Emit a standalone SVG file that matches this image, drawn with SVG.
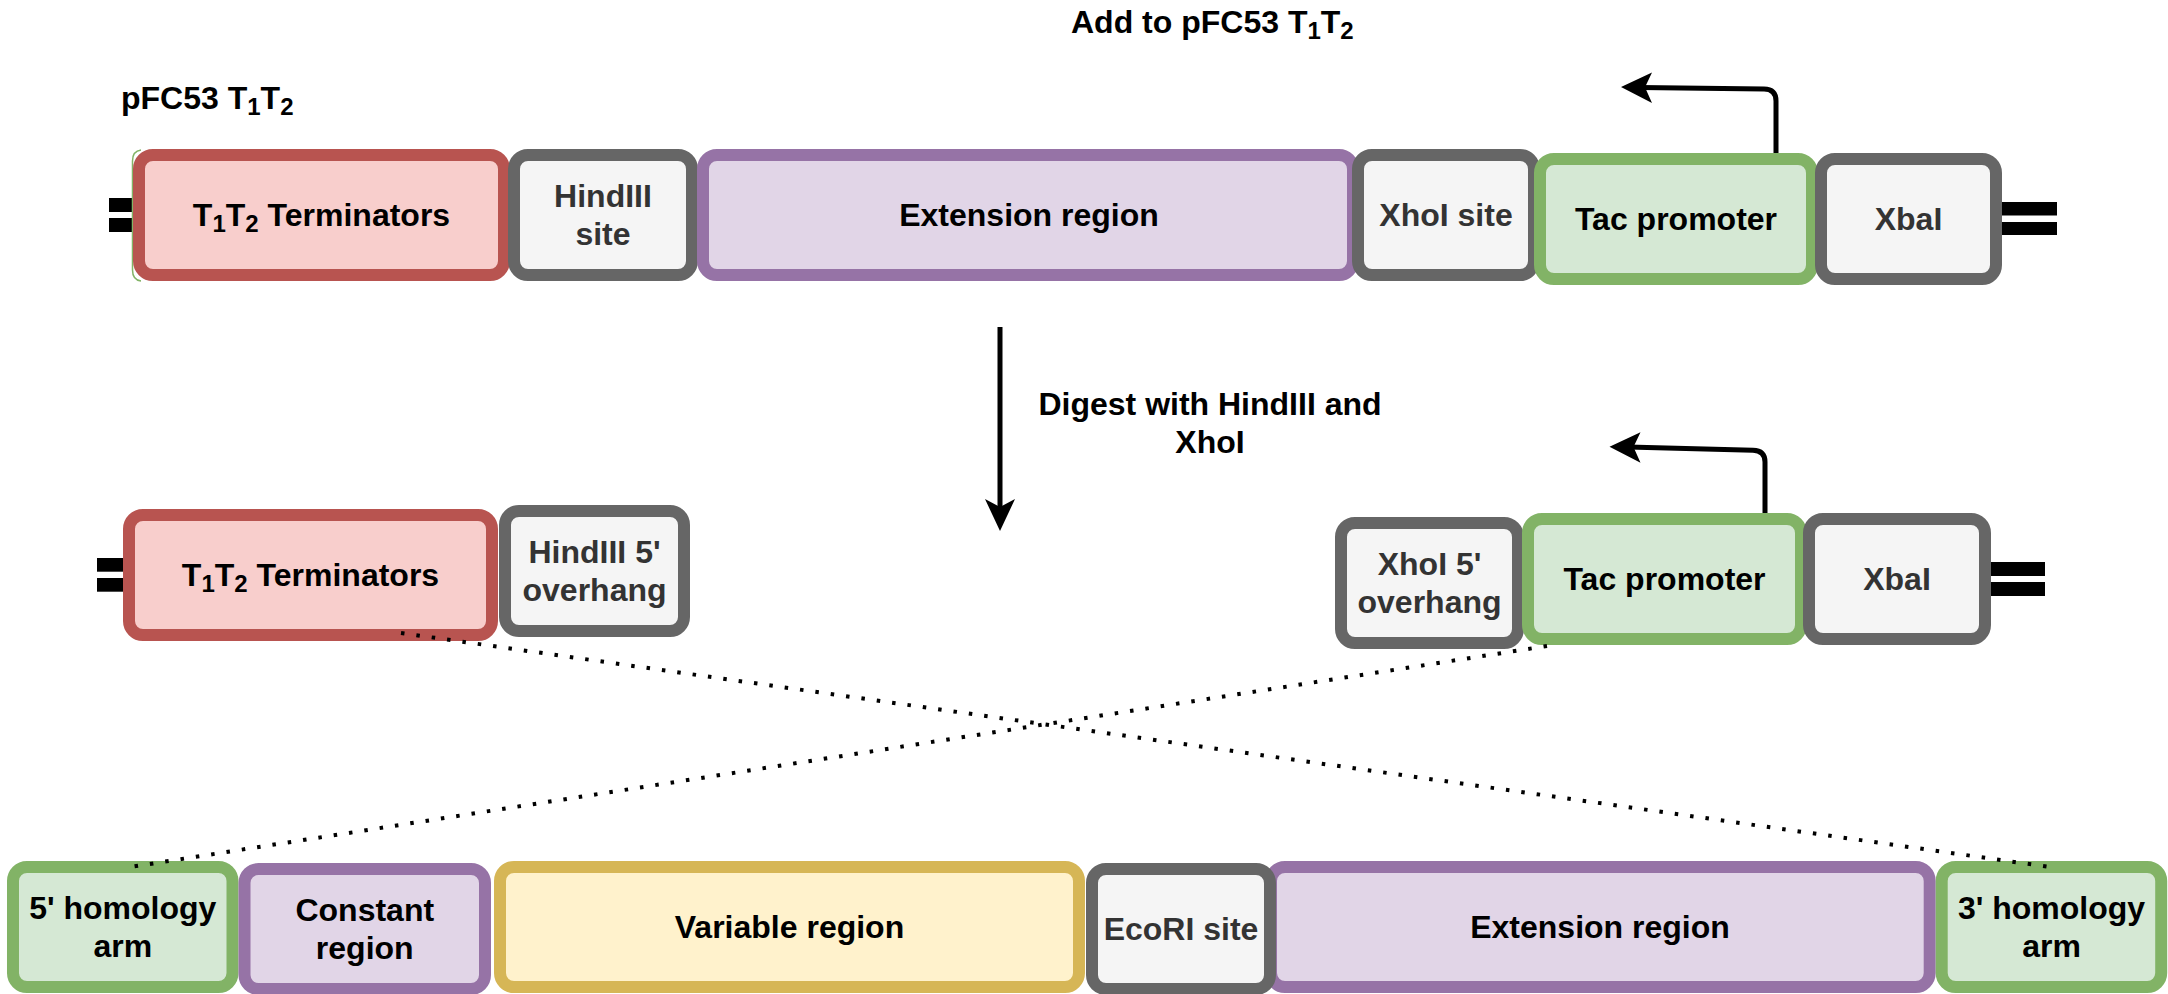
<svg xmlns="http://www.w3.org/2000/svg" width="2168" height="994" viewBox="0 0 2168 994">
<style>
  .box { stroke-width: 12; }
  .red { fill: #f8cecc; stroke: #b85450; }
  .grey { fill: #f5f5f5; stroke: #666666; }
  .purple { fill: #e1d5e7; stroke: #9673a6; }
  .green { fill: #d5e8d4; stroke: #82b366; }
  .yellow { fill: #fff2cc; stroke: #d6b656; }
  text { font-family: "Liberation Sans", Arial, sans-serif; font-weight: bold; font-size: 32px; fill: #000000; }
  text.dark { fill: #333333; }
  text.c { text-anchor: middle; }
  .sub { font-size: 24px; }
  .line { fill: none; stroke: #000000; stroke-width: 5; }
  .dots { fill: none; stroke: #000000; stroke-width: 4; stroke-dasharray: 3.5 12; }
  .bar { fill: #000000; }
</style>
<rect width="2168" height="994" fill="#ffffff"/>

<!-- labels -->
<text id="label-pfc53" x="121" y="109">pFC53 T<tspan class="sub" dy="6">1</tspan><tspan dy="-6">T</tspan><tspan class="sub" dy="6">2</tspan></text>
<text id="label-add" x="1071" y="33">Add to pFC53 T<tspan class="sub" dy="6">1</tspan><tspan dy="-6">T</tspan><tspan class="sub" dy="6">2</tspan></text>
<text id="label-digest" class="c" x="1210" y="415">Digest with HindIII and<tspan x="1210" dy="38.4">XhoI</tspan></text>

<!-- row 1 -->
<g id="ends-1">
  <rect class="bar" x="109" y="198" width="24" height="14"/>
  <rect class="bar" x="109" y="218" width="24" height="14"/>
  <rect class="bar" x="1997" y="202" width="60" height="13.5"/>
  <rect class="bar" x="1997" y="222" width="60" height="13"/>
</g>
<g id="t1t2-1">
  <path d="M141,150 Q132.5,151 132.5,161 V270 Q132.5,280 141,281" fill="none" stroke="#82b366" stroke-width="1.5"/>
  <rect class="box red" x="139" y="155" width="365" height="120" rx="14"/>
  <text class="c" x="321.5" y="226">T<tspan class="sub" dy="6">1</tspan><tspan dy="-6">T</tspan><tspan class="sub" dy="6">2</tspan><tspan dy="-6"> Terminators</tspan></text>
</g>
<g id="hindiii-1">
  <rect class="box grey" x="514" y="155" width="178" height="120" rx="14"/>
  <text class="c dark" x="603" y="207">HindIII<tspan x="603" dy="38.4">site</tspan></text>
</g>
<g id="extension-1">
  <rect class="box purple" x="703" y="155" width="650" height="120" rx="14"/>
  <text class="c" x="1029" y="226">Extension region</text>
</g>
<g id="xhoi-1">
  <rect class="box grey" x="1358" y="155" width="176" height="120" rx="14"/>
  <text class="c dark" x="1446" y="226">XhoI site</text>
</g>
<g id="tac-1">
  <rect class="box green" x="1540" y="159" width="272" height="120" rx="14"/>
  <text class="c" x="1676" y="230">Tac promoter</text>
</g>
<g id="xbai-1">
  <rect class="box grey" x="1821" y="159" width="175" height="120" rx="14"/>
  <text class="c dark" x="1908.5" y="230">XbaI</text>
</g>

<!-- row 2 -->
<g id="ends-2">
  <rect class="bar" x="97" y="558" width="26" height="13.7"/>
  <rect class="bar" x="97" y="578" width="26" height="13.7"/>
  <rect class="bar" x="1984" y="562" width="61" height="14"/>
  <rect class="bar" x="1984" y="582" width="61" height="14"/>
</g>
<g id="t1t2-2">
  <rect class="box red" x="129" y="515" width="363" height="120" rx="14"/>
  <text class="c" x="310.5" y="586">T<tspan class="sub" dy="6">1</tspan><tspan dy="-6">T</tspan><tspan class="sub" dy="6">2</tspan><tspan dy="-6"> Terminators</tspan></text>
</g>
<g id="hindiii-2">
  <rect class="box grey" x="505" y="511" width="179" height="120" rx="14"/>
  <text class="c dark" x="594.5" y="563">HindIII 5'<tspan x="594.5" dy="38.4">overhang</tspan></text>
</g>
<g id="xhoi-2">
  <rect class="box grey" x="1341" y="523" width="177" height="120" rx="14"/>
  <text class="c dark" x="1429.5" y="575">XhoI 5'<tspan x="1429.5" dy="38.4">overhang</tspan></text>
</g>
<g id="tac-2">
  <rect class="box green" x="1528" y="519" width="273" height="120" rx="14"/>
  <text class="c" x="1664.5" y="590">Tac promoter</text>
</g>
<g id="xbai-2">
  <rect class="box grey" x="1809" y="519" width="176" height="120" rx="14"/>
  <text class="c dark" x="1897" y="590">XbaI</text>
</g>

<!-- row 3 -->
<g id="arm5">
  <rect class="box green" x="13" y="867" width="219.5" height="120" rx="14"/>
  <text class="c" x="122.75" y="919">5' homology<tspan x="122.75" dy="38.4">arm</tspan></text>
</g>
<g id="constant">
  <rect class="box purple" x="244.5" y="869" width="240.5" height="120" rx="14"/>
  <text class="c" x="364.75" y="921">Constant<tspan x="364.75" dy="38.4">region</tspan></text>
</g>
<g id="variable">
  <rect class="box yellow" x="500" y="867" width="579" height="120" rx="14"/>
  <text class="c" x="789.5" y="938">Variable region</text>
</g>
<g id="extension-3">
  <rect class="box purple" x="1271" y="867" width="658.7" height="120" rx="14"/>
  <text class="c" x="1600" y="938">Extension region</text>
</g>
<g id="ecori">
  <rect class="box grey" x="1092" y="869" width="178" height="120" rx="14"/>
  <text class="c dark" x="1181" y="940">EcoRI site</text>
</g>
<g id="arm3">
  <rect class="box green" x="1941.7" y="867" width="219.5" height="120" rx="14"/>
  <text class="c" x="2051.5" y="919">3' homology<tspan x="2051.5" dy="38.4">arm</tspan></text>
</g>

<!-- connectors -->
<g id="connectors">
  <path class="dots" d="M401,633 L2050,867"/>
  <path class="dots" d="M1547,646 L124,868"/>
  <path class="line" d="M1000,327 V510"/>
  <polygon points="1000,531 985,499 1000,507 1015,499"/>
  <path class="line" d="M1776,153 V101 Q1776,89 1764,89 L1640,87.6"/>
  <polygon points="1621,87 1652,72.5 1645,87.3 1652,103"/>
  <path class="line" d="M1765,513 V462 Q1765,450.5 1753,450.3 L1628,447"/>
  <polygon points="1609.5,446.7 1640.5,432.2 1633.5,447 1640.5,462.7"/>
</g>
</svg>
